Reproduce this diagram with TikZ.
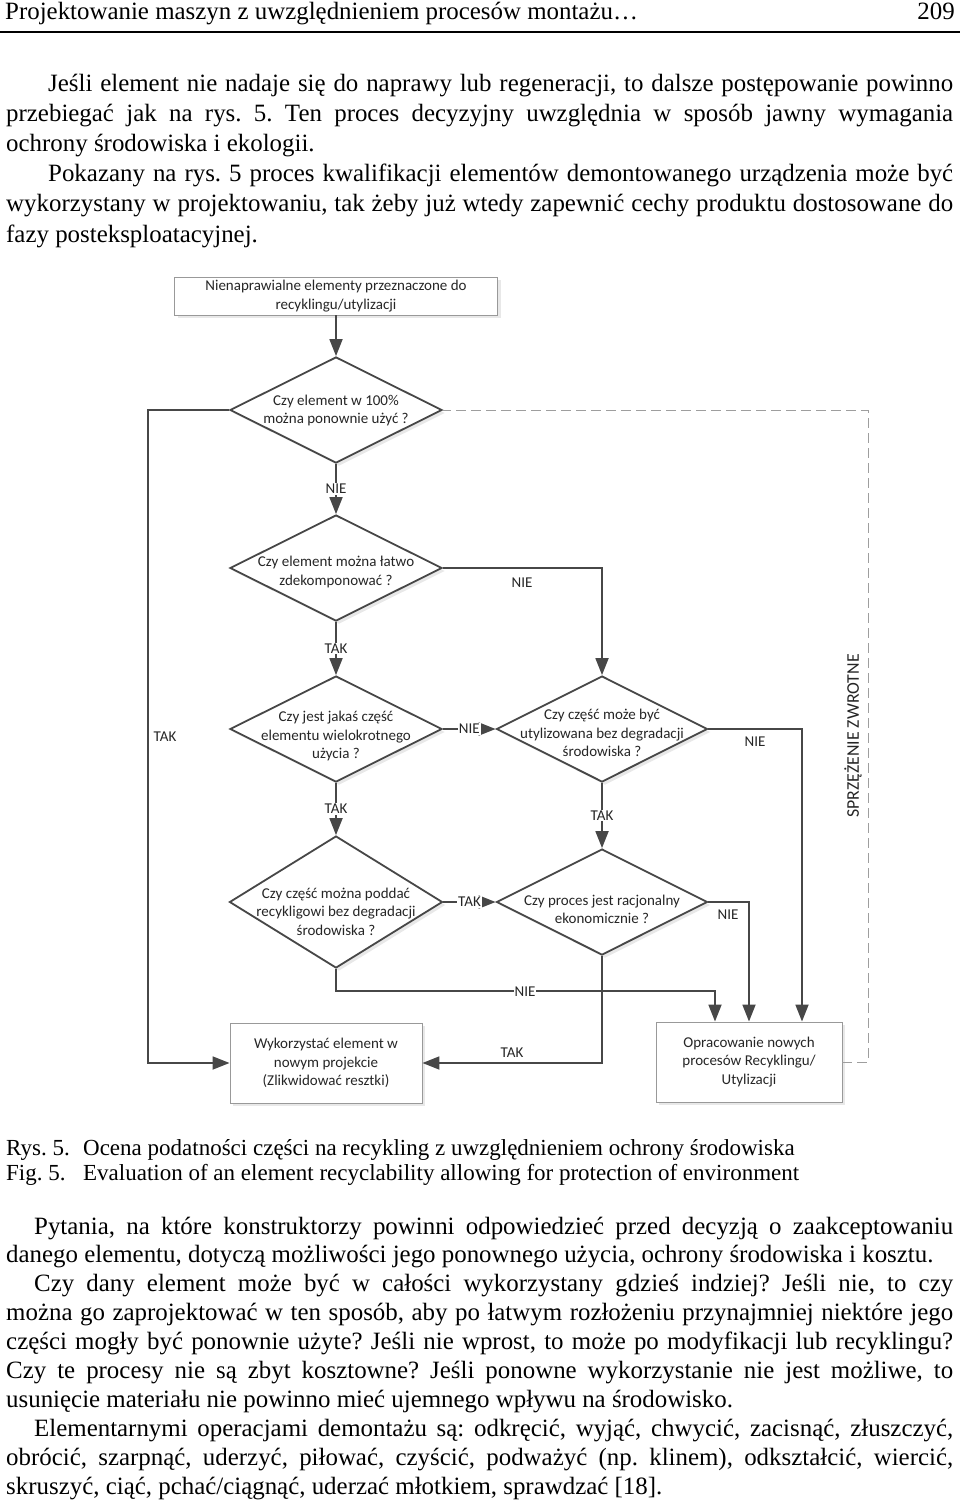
\documentclass[tikz,border=0pt]{standalone}
\usepackage{fontspec}
\setmainfont{Liberation Serif}
\newfontfamily\carlito{Carlito}
\usetikzlibrary{arrows.meta,shapes.geometric,shadows}
\frenchspacing
\tikzset{
  body/.style={anchor=base west, inner sep=0pt, font=\fontsize{24.9}{30}\selectfont},
  capt/.style={anchor=base west, inner sep=0pt, font=\fontsize{23}{28}\selectfont},
  shad/.style={drop shadow={shadow xshift=3pt, shadow yshift=-3pt, opacity=0.18}},
  dia/.style={diamond, draw=black!72, line width=1.8pt, fill=white, inner sep=0pt, shad},
  dtext/.style={align=center, inner sep=0pt, font=\carlito\fontsize{15}{18.4}\selectfont, text=black!85},
  bx/.style={rectangle, draw=black!40, line width=0.9pt, fill=white, align=center, inner sep=0pt, font=\carlito\fontsize{15}{18.2}\selectfont, text=black!85, shad},
  lab/.style={fill=white, inner sep=1pt, font=\carlito\fontsize{15}{18}\selectfont, text=black!85},
  arr/.style={draw=black!72, line width=1.8pt, -{Triangle[length=17pt,width=13pt]}},
  fbk/.style={draw=black!38, line width=1pt, dash pattern=on 10pt off 5pt}
}
\begin{document}
\begin{tikzpicture}[x=1pt,y=-1pt]
\useasboundingbox (0,0) rectangle (960,1502);
\fill[white] (0,0) rectangle (960,1502);

% header
\node[body] (h1) at (5,19) {Projektowanie maszyn z uwzględnieniem procesów montażu…};
\node[body,anchor=base east] (h2) at (955,19) {209};
\draw[line width=2pt] (0,32) -- (960,32);

% top paragraphs
\node[body] (t1) at (48,91) {\makebox[905pt][s]{Jeśli element nie nadaje się do naprawy lub regeneracji, to dalsze postępowanie powinno}};
\node[body] (t2) at (6,121.2) {\makebox[947pt][s]{przebiegać jak na rys. 5. Ten proces decyzyjny uwzględnia w sposób jawny wymagania}};
\node[body] (t3) at (6,151.4) {ochrony środowiska i ekologii.};
\node[body] (t4) at (48,181.6) {\makebox[905pt][s]{Pokazany na rys. 5 proces kwalifikacji elementów demontowanego urządzenia może być}};
\node[body] (t5) at (6,211.8) {\makebox[947pt][s]{wykorzystany w projektowaniu, tak żeby już wtedy zapewnić cechy produktu dostosowane do}};
\node[body] (t6) at (6,242) {fazy posteksploatacyjnej.};

% diagram nodes
\node[bx, minimum width=323pt, minimum height=38pt] (b0) at (336,296) {Nienaprawialne elementy przeznaczone do\\recyklingu/utylizacji};

\node[dia, minimum width=212pt, minimum height=106pt] (d1) at (336,410) {};
\node[dtext] (d1t) at (336,410.5) {Czy element w 100\%\\można ponownie użyć ?};

\node[dia, minimum width=212pt, minimum height=106pt] (d2) at (336,568) {};
\node[dtext] (d2t) at (336,572) {Czy element można łatwo\\zdekomponować ?};

\node[dia, minimum width=212pt, minimum height=106pt] (d3) at (336,729) {};
\node[dtext] (d3t) at (336,736) {Czy jest jakaś część\\elementu wielokrotnego\\użycia ?};

\node[dia, minimum width=211pt, minimum height=106pt] (d4) at (602,729) {};
\node[dtext] (d4t) at (602,733) {Czy część może być\\utylizowana bez degradacji\\środowiska ?};

\node[dia, minimum width=211pt, minimum height=106pt] (d5) at (602,902) {};
\node[dtext] (d5t) at (602,909.5) {Czy proces jest racjonalny\\ekonomicznie ?};

\node[dia, minimum width=213pt, minimum height=132pt] (d6) at (336,902) {};
\node[dtext] (d6t) at (336,911.5) {Czy część można poddać\\recykligowi bez degradacji\\środowiska ?};

\node[bx, minimum width=192pt, minimum height=80pt] (w) at (326,1063) {Wykorzystać element w\\nowym projekcie\\(Zlikwidować resztki)};
\node[bx, minimum width=186pt, minimum height=80pt] (o) at (749,1062) {Opracowanie nowych\\procesów Recyklingu/\\Utylizacji};

% coordinates
\coordinate (cl) at (148,410);
\coordinate (c4) at (802,729);
\coordinate (c6) at (715,991);
\coordinate (fb) at (868,410);

% connectors
\draw[arr] (b0.south) -- (d1.north);
\draw[arr] (d1.south) -- node[lab] (l1) {NIE} (d2.north);
\draw[arr] (d2.east) -| (d4.north);
\node[lab] (l2) at (522,583) {NIE};
\draw[arr] (d2.south) -- node[lab] (l3) {TAK} (d3.north);
\draw[arr] (d1.west) -- (cl) |- (w.west);
\node[lab] (l4) at (165,737) {TAK};
\draw[arr] (d3.east) -- node[lab] (l5) {NIE} (d4.west);
\draw[arr] (d4.east) -- (c4) -- (c4 |- o.north);
\node[lab] (l6) at (755,742) {NIE};
\draw[arr] (d4.south) -- node[lab] (l7) {TAK} (d5.north);
\draw[arr] (d3.south) -- node[lab] (l8) {TAK} (d6.north);
\draw[arr] (d6.east) -- node[lab] (l9) {TAK} (d5.west);
\draw[arr] (d5.east) -| (o.north);
\node[lab] (l10) at (728,915) {NIE};
\draw[arr] (d6.south) |- (c6) -- (c6 |- o.north);
\node[lab] (l11) at (525,992) {NIE};
\draw[arr] (d5.south) |- (w.east);
\node[lab] (l12) at (512,1053) {TAK};
\draw[fbk] (o.east) -| (fb) -- (d1.east);
\node[lab, fill=none, rotate=90, font=\carlito\fontsize{17.8}{20}\selectfont] (fbl) at (853,736) {SPRZĘŻENIE ZWROTNE};

% captions
\node[capt] (c1) at (6,1155) {\makebox[77pt][l]{Rys. 5.}Ocena podatności części na recykling z uwzględnieniem ochrony środowiska};
\node[capt] (c2) at (6,1180) {\makebox[77pt][l]{Fig. 5.}Evaluation of an element recyclability allowing for protection of environment};

% bottom paragraphs
\node[body] (p1) at (34,1234) {\makebox[919pt][s]{Pytania, na które konstruktorzy powinni odpowiedzieć przed decyzją o zaakceptowaniu}};
\node[body] (p2) at (6,1262.9) {danego elementu, dotyczą możliwości jego ponownego użycia, ochrony środowiska i kosztu.};
\node[body] (p3) at (34,1291.8) {\makebox[919pt][s]{Czy dany element może być w całości wykorzystany gdzieś indziej? Jeśli nie, to czy}};
\node[body] (p4) at (6,1320.7) {\makebox[947pt][s]{można go zaprojektować w ten sposób, aby po łatwym rozłożeniu przynajmniej niektóre jego}};
\node[body] (p5) at (6,1349.6) {\makebox[947pt][s]{części mogły być ponownie użyte? Jeśli nie wprost, to może po modyfikacji lub recyklingu?}};
\node[body] (p6) at (6,1378.5) {\makebox[947pt][s]{Czy te procesy nie są zbyt kosztowne? Jeśli ponowne wykorzystanie nie jest możliwe, to}};
\node[body] (p7) at (6,1407.4) {usunięcie materiału nie powinno mieć ujemnego wpływu na środowisko.};
\node[body] (p8) at (34,1436.3) {\makebox[919pt][s]{Elementarnymi operacjami demontażu są: odkręcić, wyjąć, chwycić, zacisnąć, złuszczyć,}};
\node[body] (p9) at (6,1465.2) {\makebox[947pt][s]{obrócić, szarpnąć, uderzyć, piłować, czyścić, podważyć (np. klinem), odkształcić, wiercić,}};
\node[body] (p10) at (6,1494.1) {skruszyć, ciąć, pchać/ciągnąć, uderzać młotkiem, sprawdzać [18].};
\end{tikzpicture}
\end{document}
